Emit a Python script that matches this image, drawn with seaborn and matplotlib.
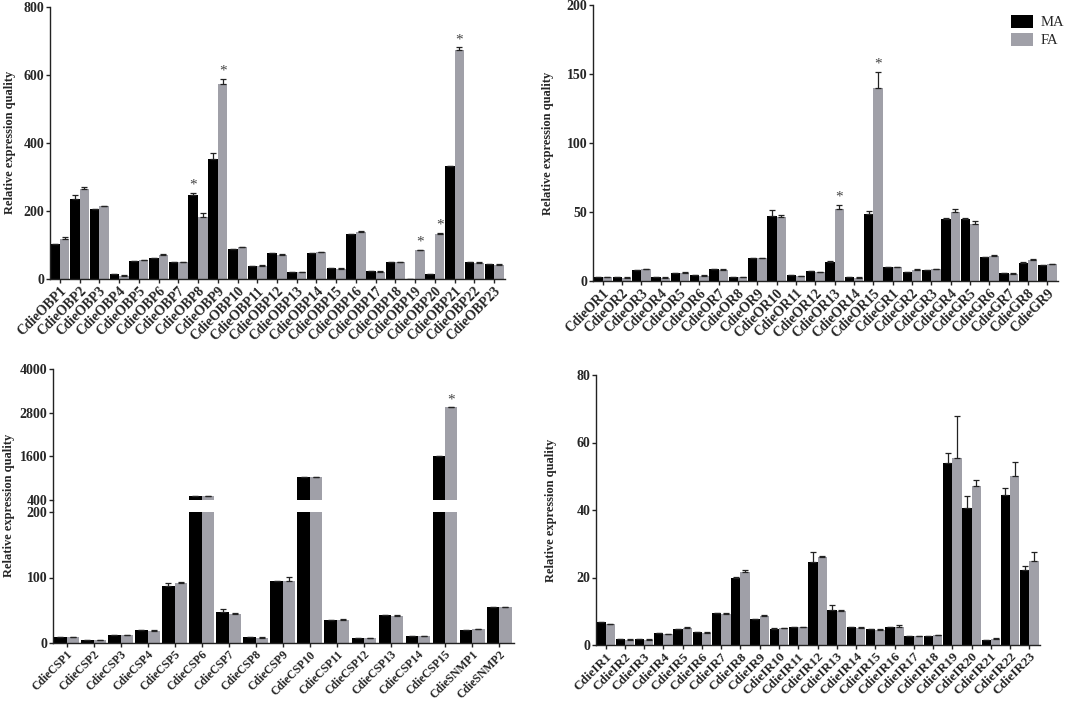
import numpy as np
import pandas as pd
import matplotlib
matplotlib.use('Agg')
import matplotlib.pyplot as plt
from matplotlib.patches import Patch
from matplotlib.lines import Line2D
import seaborn as sns

sns.set_style('ticks')
plt.rcParams['font.family'] = ['Liberation Serif', 'DejaVu Serif']
plt.rcParams['font.weight'] = 'bold'

MA_COLOR = '#000000'
FA_COLOR = '#a0a0a8'

# ---- OBP ----
obp_genes = ['CdieOBP%d' % i for i in range(1, 24)]
obp_ma = [102, 235, 205, 14, 52, 63, 50, 247, 354, 89, 38, 76, 22, 76, 31, 133, 23, 49, 0, 16, 331, 51, 44]
obp_fa = [119, 266, 214, 10, 55, 70, 50, 182, 573, 93, 38, 72, 20, 78, 30, 137, 22, 49, 84, 133, 673, 47, 42]
obp_ma_err = [0, 12, 0, 0, 0, 0, 0, 5, 17, 0, 0, 0, 0, 0, 0, 0, 0, 0, 0, 0, 0, 0, 0]
obp_fa_err = [5, 5, 2, 1, 2, 4, 1, 12, 15, 2, 2, 1, 1, 1, 1, 5, 1, 1, 2, 3, 8, 2, 2]
obp_stars = [('CdieOBP8', 'MA'), ('CdieOBP9', 'FA'), ('CdieOBP19', 'FA'),
             ('CdieOBP20', 'FA'), ('CdieOBP21', 'FA')]

# ---- OR / GR ----
or_genes = ['CdieOR%d' % i for i in range(1, 16)] + ['CdieGR%d' % i for i in range(1, 10)]
or_ma = [3.1, 2.9, 8.0, 2.9, 5.8, 4.1, 8.5, 3.1, 16.7, 47.4, 4.1, 7.5, 14.0, 2.9, 48.4,
         10.2, 6.5, 8.2, 45.0, 45.0, 17.4, 6.0, 13.3, 11.4]
or_fa = [2.7, 2.4, 8.5, 2.4, 6.0, 3.9, 8.2, 2.7, 16.5, 46.5, 3.6, 6.5, 52.3, 2.4, 139.6,
         10.2, 7.7, 8.5, 50.0, 41.4, 18.4, 5.3, 15.2, 12.1]
or_ma_err = [0, 0, 0, 0, 0, 0, 0, 0, 0, 4, 0, 0, 0.5, 0, 2, 0, 0, 0, 0.5, 0.5, 0, 0, 0.3, 0]
or_fa_err = [0.3, 0.3, 0.5, 0.3, 0.3, 0.3, 0.3, 0.3, 0.3, 1, 0.3, 0.3, 3, 0.3, 12,
             0.3, 1, 0.5, 2.5, 2, 0.5, 0.3, 0.5, 0.5]
or_stars = [('CdieOR13', 'FA'), ('CdieOR15', 'FA')]

# ---- CSP / SNMP ----
csp_genes = ['CdieCSP%d' % i for i in range(1, 16)] + ['CdieSNMP1', 'CdieSNMP2']
csp_ma = [9, 5, 12, 20, 87, 520, 47.7, 8.6, 94.4, 1020, 35.5, 7.6, 42, 11.2, 1620, 20.3, 54.8]
csp_fa = [8.6, 4.6, 11.7, 18.8, 91, 520, 44.7, 8.1, 94, 1020, 35.5, 7.1, 41.6, 10.2, 2950, 21.3, 54.3]
csp_ma_err = [0, 0, 0, 0, 4, 0, 4, 0, 1, 0, 0, 0, 0, 0, 0, 0, 0]
csp_fa_err = [0.5, 0.5, 0.5, 0.7, 2, 0, 1.5, 0.5, 7, 0, 0.5, 0.5, 0.5, 0.5, 0, 0.5, 0.5]
csp_stars = [('CdieCSP15', 'FA')]

# ---- IR ----
ir_genes = ['CdieIR%d' % i for i in range(1, 24)]
ir_ma = [6.7, 1.9, 1.9, 3.5, 4.8, 3.75, 9.4, 19.75, 7.7, 4.8, 5.4, 24.7, 10.4, 5.3, 4.8,
         5.4, 2.8, 2.8, 54.0, 40.7, 1.6, 44.5, 22.2]
ir_fa = [6.1, 1.6, 1.6, 3.2, 5.0, 3.65, 9.2, 21.6, 8.5, 4.9, 5.2, 26.1, 10.1, 5.0, 4.4,
         5.2, 2.7, 2.9, 55.5, 47.0, 1.9, 50.1, 24.9]
ir_ma_err = [0, 0, 0, 0, 0, 0, 0.2, 0.3, 0, 0.2, 0, 3, 1.5, 0, 0, 0, 0, 0, 2.8, 3.4, 0, 2.1, 1.2]
ir_fa_err = [0.2, 0.1, 0.1, 0.1, 0.4, 0.1, 0.2, 0.5, 0.3, 0.2, 0.1, 0.3, 0.3, 0.2, 0.2,
             0.8, 0.1, 0.1, 12.5, 2, 0.2, 4, 2.7]
ir_stars = []


def long_df(genes, ma, fa):
    return pd.DataFrame({
        'gene': genes * 2,
        'value': list(ma) + list(fa),
        'sex': ['MA'] * len(genes) + ['FA'] * len(genes),
    })


def draw_panel(ax, genes, ma, fa, ma_err, fa_err, stars, width, star_off, xsize=10):
    df = long_df(genes, ma, fa)
    sns.barplot(data=df, x='gene', y='value', hue='sex', hue_order=['MA', 'FA'],
                palette={'MA': MA_COLOR, 'FA': FA_COLOR}, errorbar=None,
                width=width, gap=0, saturation=1, linewidth=0, legend=False, ax=ax)
    tops = {}
    for cont, errs, sex in zip(ax.containers, [ma_err, fa_err], ['MA', 'FA']):
        xs = [b.get_x() + b.get_width() / 2 for b in cont]
        hs = [b.get_height() for b in cont]
        ax.errorbar(xs, hs, yerr=[np.zeros(len(errs)), errs], fmt='none',
                    ecolor='#222222', elinewidth=0.9, capsize=2, capthick=0.9)
        for g, x, h, e in zip(genes, xs, hs, errs):
            tops[(g, sex)] = (x, h + e)
    for key in stars:
        x, y = tops[key]
        ax.text(x, y + star_off, '*', ha='center', va='bottom', fontsize=11,
                color='#444444', fontweight='normal')
    ax.set_xlim(-0.5, len(genes) - 0.45)
    ax.set_xlabel('')
    ax.set_ylabel('')
    sns.despine(ax=ax)
    for s in ['left', 'bottom']:
        ax.spines[s].set_color('#222222')
        ax.spines[s].set_linewidth(1.0)
    ax.tick_params(axis='y', length=3, width=1, labelsize=10, pad=1, color='#222222')
    ax.tick_params(axis='x', length=3, width=1, labelsize=xsize, pad=1, color='#222222')
    plt.setp(ax.get_xticklabels(), rotation=45, ha='right', va='top',
             rotation_mode='anchor', fontweight='bold')
    plt.setp(ax.get_yticklabels(), fontweight='bold')
    return tops


fig = plt.figure(figsize=(10.72, 7.01), dpi=100)
W, H = 1072.0, 701.0


def add_ax(left, right, top, bottom):
    return fig.add_axes([left / W, 1 - bottom / H, (right - left) / W, (bottom - top) / H])


# top left: OBP
ax1 = add_ax(50, 505, 7, 279)
draw_panel(ax1, obp_genes, obp_ma, obp_fa, obp_ma_err, obp_fa_err, obp_stars, 0.97, 4)
ax1.set_ylim(0, 800)
ax1.set_yticks([0, 200, 400, 600, 800])

# top right: OR / GR
ax2 = add_ax(593, 1058, 5, 281)
draw_panel(ax2, or_genes, or_ma, or_fa, or_ma_err, or_fa_err, or_stars, 0.97, 1)
ax2.set_ylim(0, 200)
ax2.set_yticks([0, 50, 100, 150, 200])

# bottom left: CSP / SNMP with broken axis
ax3t = add_ax(53, 514, 369, 500)
ax3b = add_ax(53, 514, 512, 643)
draw_panel(ax3t, csp_genes, csp_ma, csp_fa, csp_ma_err, csp_fa_err, csp_stars, 0.92, 20, 8.5)
draw_panel(ax3b, csp_genes, csp_ma, csp_fa, csp_ma_err, csp_fa_err, [], 0.92, 1, 8.5)
ax3t.set_ylim(400, 4000)
ax3t.set_yticks([400, 1600, 2800, 4000])
ax3t.spines['bottom'].set_visible(False)
ax3t.tick_params(axis='x', bottom=False, labelbottom=False)
ax3b.set_ylim(0, 200)
ax3b.set_yticks([0, 100, 200])
fig.add_artist(Line2D([53 / W, 53 / W], [1 - 512 / H, 1 - 500 / H], color='#222222', lw=1.0))

# bottom right: IR
ax4 = add_ax(596, 1040, 375, 645)
draw_panel(ax4, ir_genes, ir_ma, ir_fa, ir_ma_err, ir_fa_err, ir_stars, 0.97, 1, 9.5)
ax4.set_ylim(0, 80)
ax4.set_yticks([0, 20, 40, 60, 80])

# y labels
for x, y in [(10, 142), (548, 143), (9, 505), (551, 510)]:
    fig.text(x / W, 1 - y / H, 'Relative expression quality', rotation=90,
             ha='center', va='center', fontsize=9, fontweight='bold')

# legend
handles = [Patch(facecolor=MA_COLOR, edgecolor='none'), Patch(facecolor=FA_COLOR, edgecolor='none')]
fig.legend(handles, ['MA', 'FA'], loc='upper left', bbox_to_anchor=(998 / W, 1 - 2 / H),
           frameon=False, handlelength=1.5, handleheight=0.95, handletextpad=0.5,
           labelspacing=0.25, prop={'family': 'Liberation Serif', 'size': 10.5, 'weight': 'normal'})

fig.savefig('out.png', dpi=100)
